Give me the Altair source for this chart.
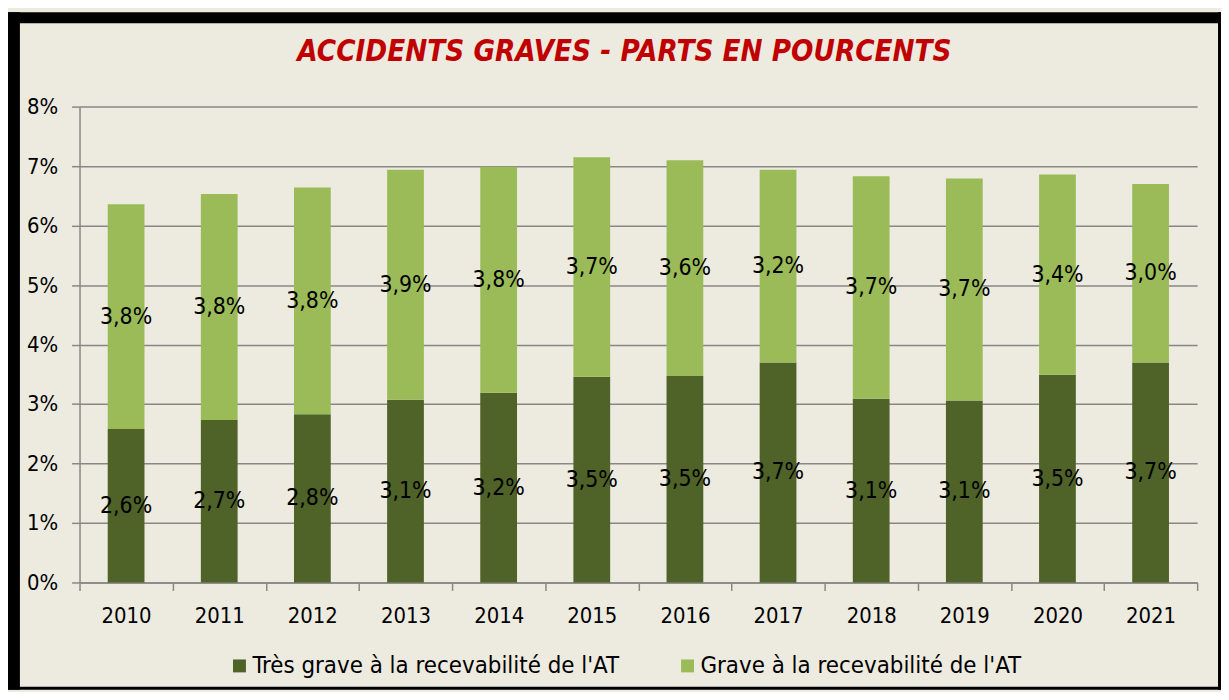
import altair as alt
import pandas as pd

years = [str(y) for y in range(2010, 2022)]
tres_grave = [2.58, 2.73, 2.83, 3.07, 3.19, 3.46, 3.47, 3.70, 3.09, 3.06, 3.49, 3.70]
grave = [3.78, 3.80, 3.81, 3.87, 3.80, 3.69, 3.63, 3.24, 3.74, 3.73, 3.37, 3.00]
series = ["Très grave à la recevabilité de l'AT", "Grave à la recevabilité de l'AT"]
colors = ["#4F6228", "#9BBB59"]
y_ticks = [0, 1, 2, 3, 4, 5, 6, 7, 8]
title_text = "ACCIDENTS GRAVES - PARTS EN POURCENTS"

rows = []
for i, yr in enumerate(years):
    rows.append({"year": yr, "series": series[0], "order": 0, "value": tres_grave[i]})
    rows.append({"year": yr, "series": series[1], "order": 1, "value": grave[i]})
df = pd.DataFrame(rows)

W, H = 1125, 479
FONT = "DejaVu Sans Condensed"
GRID = "#878787"
BG = "#EDEBE0"

base = alt.Chart(df).transform_stack(
    stack="value", as_=["v0", "v1"], groupby=["year"],
    sort=[alt.SortField(field="order", order="ascending")]
).transform_calculate(
    mid="(datum.v0 + datum.v1) / 2",
    label="replace(format(datum.value, '.1f'), '.', ',') + '%'"
)

x_enc = alt.X(
    "year:N", sort=years,
    scale=alt.Scale(paddingInner=0, paddingOuter=0),
    axis=alt.Axis(title=None, labelAngle=0, tickBand="extent", tickSize=8,
                  tickColor=GRID, tickWidth=1.5, domainColor=GRID, domainWidth=1.5,
                  labelFontSize=22, labelFont=FONT, labelColor="black", labelPadding=15,
                  grid=False),
)

bars = base.mark_bar(width=37).encode(
    x=x_enc,
    y=alt.Y("v0:Q", scale=alt.Scale(domain=[0, 8], nice=False),
            axis=alt.Axis(values=y_ticks, labelExpr="datum.value + '%'", title=None,
                          grid=True, gridColor=GRID, gridWidth=1.5,
                          domainColor=GRID, domainWidth=1.5, tickColor=GRID,
                          tickSize=8, tickWidth=1.5, labelFontSize=22, labelFont=FONT,
                          labelColor="black", labelPadding=14)),
    y2="v1:Q",
    color=alt.Color("series:N", scale=alt.Scale(domain=series, range=colors),
                    legend=alt.Legend(title=None, orient="none", legendX=149, legendY=551,
                                      direction="horizontal", symbolType="square",
                                      symbolSize=169, symbolStrokeWidth=0,
                                      labelFontSize=24, labelFont=FONT, labelColor="black",
                                      labelLimit=600, columnPadding=56, labelOffset=1)),
    order=alt.Order("order:Q"),
)

labels = base.mark_text(fontSize=23, font=FONT, color="black").encode(
    x=alt.X("year:N", sort=years),
    y=alt.Y("mid:Q"),
    text="label:N",
)

one = pd.DataFrame({"k": [0]})
def strip(x1, x2, y1, y2):
    return alt.Chart(one).mark_rect(color="black").encode(
        x=alt.value(x1), x2=alt.value(x2), y=alt.value(y1), y2=alt.value(y2))

frame = [
    strip(-72, -60, -95, 587),
    strip(-72, 1149, -95, -84),
    strip(1146, 1149, -95, 587),
    strip(-72, 1149, 584, 587),
]

chart = alt.layer(*frame, bars, labels).properties(
    width=W, height=H,
    autosize=alt.AutoSizeParams(type="none"),
    padding={"left": 72, "top": 97, "right": 24, "bottom": 108},
    background=BG,
    title=alt.Title(title_text, font=FONT, fontSize=29.5, fontStyle="italic",
                    fontWeight="bold", color="#C00000", anchor="middle", dx=-14,
                    offset=-79, baseline="alphabetic"),
).configure_view(stroke=None)

chart.save("out.html", embed_options={"renderer": "svg", "actions": False})
